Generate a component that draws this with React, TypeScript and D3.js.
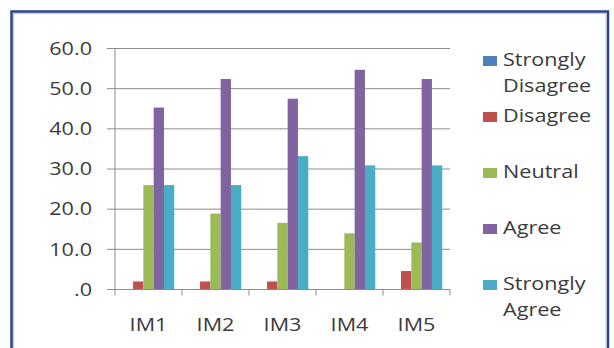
import React from "react";
import * as d3 from "d3";

// Survey items on the x axis
const categories = ["IM1", "IM2", "IM3", "IM4", "IM5"];

// Response groups (percent of respondents)
const seriesNames = ["Strongly Disagree", "Disagree", "Neutral", "Agree", "Strongly Agree"];
const stronglyDisagree = [0, 0, 0, 0, 0];
const disagree = [2.0, 2.0, 2.0, 0, 4.6];
const neutral = [26.0, 18.9, 16.6, 14.0, 11.7];
const agree = [45.3, 52.4, 47.5, 54.7, 52.4];
const stronglyAgree = [26.0, 26.0, 33.2, 30.9, 30.9];

const yTicks = [0, 10, 20, 30, 40, 50, 60];
const legendLines = [["Strongly", "Disagree"], ["Disagree"], ["Neutral"], ["Agree"], ["Strongly", "Agree"]];

const colors = ["#4F81BD", "#C0504D", "#9BBB59", "#8064A2", "#4BACC6"];

const W = 614;
const H = 348;
const plot = { left: 115, right: 450, top: 48.5, bottom: 289.5 };
const FONT = "'Open Sans', 'Noto Sans', sans-serif";
const TEXT_COLOR = "#3b3b3b";
const SX = 1.2; // horizontal text stretch

export default function App() {
  const values = [stronglyDisagree, disagree, neutral, agree, stronglyAgree];

  const x0 = d3.scaleBand<string>().domain(categories).range([plot.left, plot.right]).padding(0);
  const x1 = d3
    .scaleBand<string>()
    .domain(seriesNames)
    .range([0, x0.bandwidth()])
    .paddingInner(0)
    .paddingOuter(0.75);
  const y = d3.scaleLinear().domain([0, 60]).range([plot.bottom, plot.top]);

  const fmt = (v: number) => (v === 0 ? ".0" : d3.format(".1f")(v));
  const boundaries = categories.map((c) => x0(c)!).concat([plot.right]);

  const legendX = 483;
  const legendTextX = 503;
  const legendBase = 66;
  const legendStep = 56;

  return (
    <svg
      width={W}
      height={H}
      style={{ position: "fixed", left: 0, top: 0, background: "#fff" }}
    >
      {/* chart frame */}
      <rect x={11.5} y={11.5} width={596.5} height={360} fill="#fff" stroke="#27448c" strokeWidth={2.5} />
      <rect x={13.5} y={13.5} width={592.5} height={356} fill="none" stroke="#b8c6e0" strokeWidth={1} />

      {/* gridlines and y ticks */}
      {yTicks.map((t) => (
        <g key={t}>
          {t > 0 && (
            <line x1={plot.left} x2={plot.right} y1={y(t)} y2={y(t)} stroke="#8c8c8c" strokeWidth={1} />
          )}
          <line x1={plot.left - 8} x2={plot.left} y1={y(t)} y2={y(t)} stroke="#8c8c8c" strokeWidth={1} />
          <text
            transform={`translate(92,${y(t) + 6.3}) scale(${SX},1)`}
            textAnchor="end"
            fontFamily={FONT}
            fontSize={18}
            fill={TEXT_COLOR}
          >
            {fmt(t)}
          </text>
        </g>
      ))}

      {/* bars */}
      {categories.map((c, ci) => (
        <g key={c}>
          {seriesNames.map((s, si) => {
            const v = values[si][ci];
            if (v <= 0) return null;
            return (
              <rect
                key={s}
                x={x0(c)! + x1(s)!}
                y={y(v)}
                width={x1.bandwidth()}
                height={y(0) - y(v)}
                fill={colors[si]}
              />
            );
          })}
        </g>
      ))}

      {/* axes */}
      <line x1={plot.left} x2={plot.left} y1={plot.top} y2={plot.bottom} stroke="#8c8c8c" strokeWidth={1} />
      <line x1={plot.left} x2={plot.right} y1={plot.bottom} y2={plot.bottom} stroke="#8c8c8c" strokeWidth={1} />
      {boundaries.map((bx, i) => (
        <line key={i} x1={bx} x2={bx} y1={plot.bottom} y2={plot.bottom + 6} stroke="#8c8c8c" strokeWidth={1} />
      ))}
      {categories.map((c) => (
        <text
          key={c}
          transform={`translate(${x0(c)! + x0.bandwidth() / 2},331) scale(${SX},1)`}
          textAnchor="middle"
          fontFamily={FONT}
          fontSize={18}
          fill={TEXT_COLOR}
        >
          {c}
        </text>
      ))}

      {/* legend */}
      {seriesNames.map((s, i) => {
        const base = legendBase + i * legendStep;
        return (
          <g key={s}>
            <rect x={legendX} y={base - 10} width={14} height={10} fill={colors[i]} />
            {legendLines[i].map((ln, li) => (
              <text
                key={li}
                transform={`translate(${legendTextX},${base + li * 26}) scale(${SX},1)`}
                fontFamily={FONT}
                fontSize={18}
                fill={TEXT_COLOR}
              >
                {ln}
              </text>
            ))}
          </g>
        );
      })}
    </svg>
  );
}
